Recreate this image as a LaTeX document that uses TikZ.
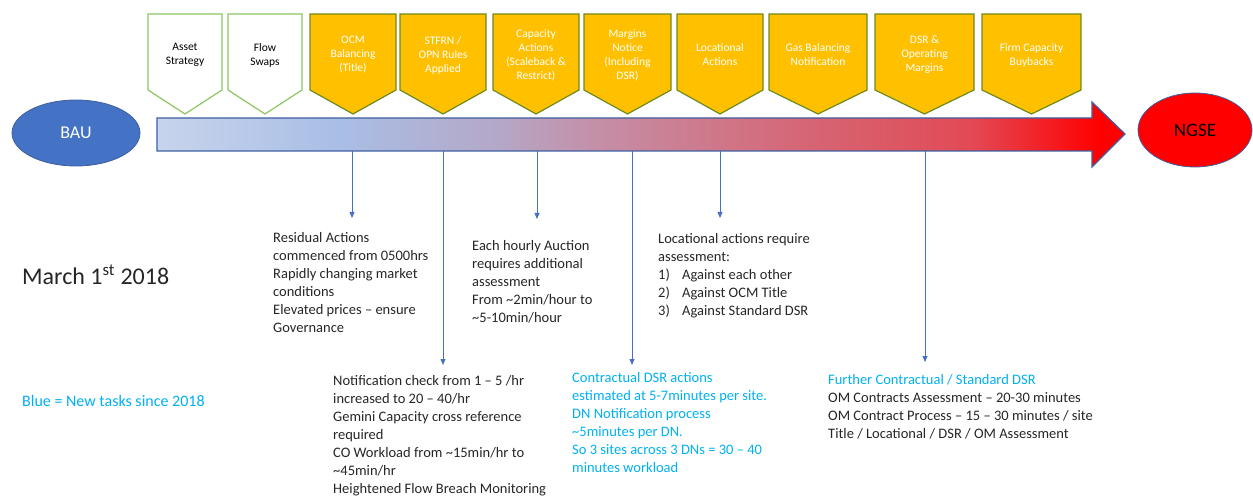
\documentclass[tikz,border=0pt]{standalone}
\usepackage{fontspec}
\setmainfont{Carlito}
\usetikzlibrary{arrows.meta,positioning,shapes.geometric}

\definecolor{gold}{HTML}{FFC000}
\definecolor{goldedge}{HTML}{6E8B1E}
\definecolor{greenedge}{HTML}{8CC660}
\definecolor{baublue}{HTML}{4472C4}
\definecolor{edgeblue}{HTML}{3F5F9F}
\definecolor{newblue}{HTML}{00B0F0}
\definecolor{txtgray}{HTML}{262626}
\definecolor{barA}{HTML}{C8D4EC}
\definecolor{barB}{HTML}{A9BEE6}
\definecolor{barC}{HTML}{B4A8C8}
\definecolor{barD}{HTML}{C490A8}
\definecolor{barE}{HTML}{D46A7A}
\definecolor{barF}{HTML}{E24A55}

\pgfdeclarehorizontalshading{barshade}{100bp}{color(0bp)=(barA); color(25bp)=(barA);
  color(34.4bp)=(barB); color(42.5bp)=(barC); color(47.5bp)=(barD);
  color(57.2bp)=(barE); color(67bp)=(barF); color(73.7bp)=(red); color(100bp)=(red)}

\tikzset{
  chev/.style={line width=1.2pt},
  boxtext/.style={align=center, inner sep=0pt, font=\fontsize{11.5}{14}\selectfont},
  note/.style={align=left, anchor=north west, inner sep=0pt, text=txtgray,
               font=\fontsize{14.5}{18}\selectfont},
  down/.style={-{Triangle[length=6pt,width=5pt]}, draw=baublue, line width=0.8pt},
}

\begin{document}
\begin{tikzpicture}[x=1pt, y=-1pt]
    \useasboundingbox (0,0) rectangle (1253,497);

    %chevrons
    \foreach \xl/\xr/\fc/\bc/\tc/\txt [count=\i] in {
        148/222/white/greenedge/black/{Asset\\Strategy},
        228/302/white/greenedge/black/{Flow\\Swaps},
        310/396/gold/goldedge/white/{OCM\\Balancing\\(Title)},
        400/486/gold/goldedge/white/{STFRN /\\OPN Rules\\Applied},
        493/579/gold/goldedge/white/{Capacity\\Actions\\(Scaleback \&\\Restrict)},
        584/671/gold/goldedge/white/{Margins\\Notice\\(Including\\DSR)},
        677/763/gold/goldedge/white/{Locational\\Actions},
        769/867/gold/goldedge/white/{Gas Balancing\\Notification},
        875/974/gold/goldedge/white/{DSR \&\\Operating\\Margins},
        982/1081/gold/goldedge/white/{Firm Capacity\\Buybacks}}{
        \draw[chev, fill=\fc, draw=\bc] (\xl,14) -- (\xr,14) -- (\xr,90)
            -- ({(\xl+\xr)/2},114) -- (\xl,90) -- cycle;
        \node[boxtext, text=\tc] (box\i) at ({(\xl+\xr)/2},55) {\txt};
    }

    %timeline arrow
    \shadedraw[shading=barshade, draw=edgeblue, line width=1.2pt]
        (157,118) -- (1092,118) -- (1092,102) -- (1125,134) -- (1092,167)
        -- (1092,151) -- (157,151) -- cycle;

    %end points
    \node[ellipse, draw=edgeblue, fill=baublue, line width=0.8pt, minimum width=128pt,
          minimum height=66pt, inner sep=0pt, text=white, font=\fontsize{18}{18}\selectfont]
          (bau) at (76,133) {BAU};
    \node[ellipse, draw=edgeblue, fill=red, line width=0.8pt, minimum width=114pt,
          minimum height=74pt, inner sep=0pt, text=black, font=\fontsize{19}{19}\selectfont]
          (ngse) at (1195,130) {NGSE};

    %notes
    \node[note] (res) at (273,232) {Residual Actions\\commenced from 0500hrs\\Rapidly changing market\\conditions\\Elevated prices -- ensure\\Governance};
    \node[note] (auc) at (472,240) {Each hourly Auction\\requires additional\\assessment\\From \textasciitilde2min/hour to\\\textasciitilde5-10min/hour};
    \node[note] (loc) at (658,233) {Locational actions require\\assessment:\\\makebox[24pt][l]{1)}Against each other\\\makebox[24pt][l]{2)}Against OCM Title\\\makebox[24pt][l]{3)}Against Standard DSR};
    \node[note] (chk) at (333,375) {Notification check from 1 -- 5 /hr\\increased to 20 -- 40/hr\\Gemini Capacity cross reference\\required\\CO Workload from \textasciitilde15min/hr to\\\textasciitilde45min/hr\\Heightened Flow Breach Monitoring};
    \node[note, text=newblue] (dsr) at (572,372) {Contractual DSR actions\\estimated at 5-7minutes per site.\\DN Notification process\\\textasciitilde5minutes per DN.\\So 3 sites across 3 DNs = 30 -- 40\\minutes workload};
    \node[note] (om) at (828,374) {\textcolor{newblue}{Further Contractual / Standard DSR}\\OM Contracts Assessment -- 20-30 minutes\\OM Contract Process -- 15 -- 30 minutes / site\\Title / Locational / DSR / OM Assessment};

    \node[note, anchor=west, font=\fontsize{24}{26}\selectfont] (date) at (22,275) {March 1\textsuperscript{st} 2018};
    \node[note, anchor=west, font=\fontsize{16}{18}\selectfont, text=newblue] (key) at (22,401) {Blue = New tasks since 2018};

    %arrows
    \foreach \x/\y [count=\i] in {352/218, 443/365, 537/219, 632/365, 720/218, 925/362}{
        \coordinate (s\i) at (\x,151);
        \coordinate (e\i) at (\x,\y);
        \draw[down] (s\i) -- (e\i);
    }
\end{tikzpicture}
\end{document}
